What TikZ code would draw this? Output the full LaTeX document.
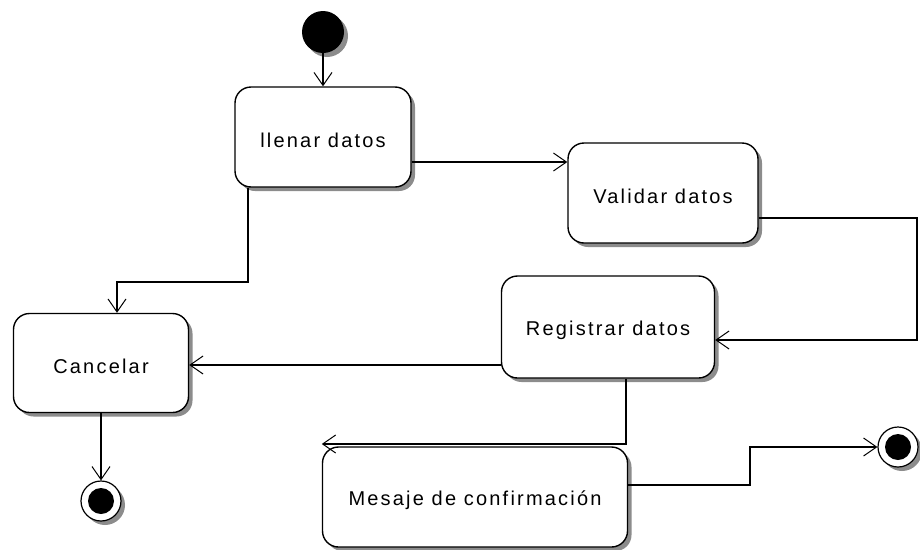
\documentclass[tikz,border=0pt]{standalone}
\usepackage{fontspec}
\setmainfont{Liberation Sans}[LetterSpace=11]
\usetikzlibrary{arrows.meta,shadows}
\newcommand{\lowtxt}[1]{\raisebox{-3pt}[\height][\depth]{#1}}
\begin{document}
\begin{tikzpicture}[x=1pt,y=-1pt,
  act/.style={draw=black,line width=1.4pt,fill=white,rounded corners=16pt,
    minimum width=#1,inner sep=0pt,font=\fontsize{20}{24}\selectfont,
    drop shadow={shadow xshift=4pt,shadow yshift=-4pt,fill=black!45,opacity=1}},
  arr/.style={line width=1.1pt,-{Straight Barb[length=13pt,width=18pt,line width=1pt]}},
  startnode/.style={circle,fill=black,minimum size=42pt,inner sep=0pt,
    drop shadow={shadow xshift=4pt,shadow yshift=-4pt,fill=black!45,opacity=1}},
  endnode/.style={circle,draw=black,line width=1.2pt,fill=white,minimum size=40pt,inner sep=0pt,
    path picture={\fill[black] (path picture bounding box.center) circle (13pt);},
    drop shadow={shadow xshift=4pt,shadow yshift=-4pt,fill=black!45,opacity=1}}]
\useasboundingbox (0,0) rectangle (920,549);
\node[startnode] (start) at (323,32) {};
\node[act=176pt,minimum height=100pt] (llenar) at (323,137) {\lowtxt{llenar datos}};
\node[act=190pt,minimum height=100pt] (validar) at (663,193) {\lowtxt{Validar datos}};
\node[act=213pt,minimum height=102pt] (registrar) at (608,327) {\lowtxt{Registrar datos}};
\node[act=175pt,minimum height=99pt] (cancelar) at (101,363) {\lowtxt{Cancelar}};
\node[act=305pt,minimum height=100pt] (mesaje) at (475,497) {\lowtxt{Mesaje de confirmación}};
\node[endnode] (end1) at (101,501) {};
\node[endnode] (end2) at (898,447) {};
\draw[arr] (start.south) -- (llenar.north);
\draw[arr] (llenar.east |- 0,162) -- (validar.west |- 0,162);
\draw[arr] (248,0 |- llenar.south) |- (117,282) -- (117,0 |- cancelar.north);
\draw[arr] (validar.east |- 0,218) -| (917,340) -- (registrar.east |- 0,340);
\draw[arr] (registrar.west |- 0,365) -- (cancelar.east |- 0,365);
\draw[arr] (626,0 |- registrar.south) |- (mesaje.west |- 0,444);
\draw[arr] (mesaje.east |- 0,485) -| (750,447) -- (end2.west);
\draw[arr] (cancelar.south) -- (end1.north);
\end{tikzpicture}
\end{document}
